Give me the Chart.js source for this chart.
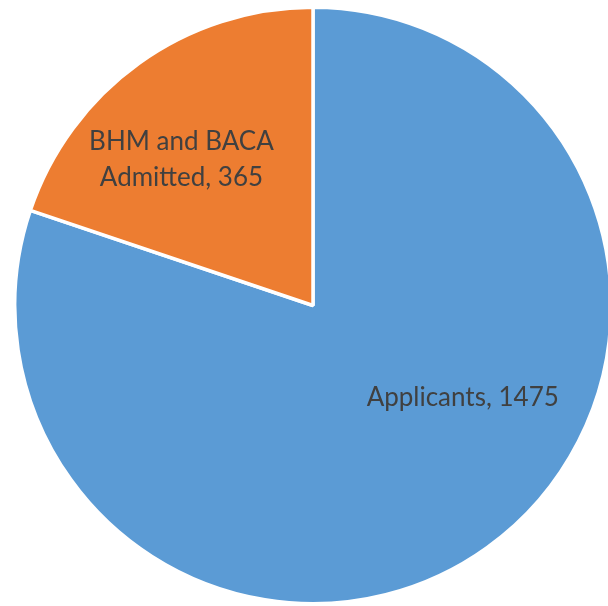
<!DOCTYPE html>
<html>
<head>
<meta charset="utf-8">
<script src="https://cdn.jsdelivr.net/npm/chart.js@4/dist/chart.umd.min.js"></script>
<style>
  html, body { margin: 0; padding: 0; background: #fff; overflow: hidden; }
  #wrap { width: 620px; height: 606px; position: relative; }
</style>
</head>
<body>
<div id="wrap"><canvas id="pieChart"></canvas></div>
<script>
// admissions pie
var labels = ['Applicants', 'BHM and BACA Admitted'];
var values = [1475, 365];
var colors = ['#5B9BD5', '#ED7D31'];
// label text lines and where they sit, as a fraction of the radius from the centre
var labelLines = [['Applicants, 1475'], ['BHM and BACA', 'Admitted, 365']];
var labelPos = [[0.502, 0.337], [-0.441, -0.522]];

var sliceLabels = {
  id: 'sliceLabels',
  afterDraw: function(chart) {
    var ctx = chart.ctx;
    var meta = chart.getDatasetMeta(0);
    ctx.save();
    ctx.font = '26px Lato';
    ctx.fillStyle = '#404040';
    ctx.textAlign = 'center';
    ctx.textBaseline = 'alphabetic';
    meta.data.forEach(function(arc, i) {
      var r = arc.outerRadius;
      var x = arc.x + labelPos[i][0] * r;
      var y = arc.y + labelPos[i][1] * r;
      labelLines[i].forEach(function(line, j) {
        ctx.fillText(line, x, y + j * 36);
      });
    });
    ctx.restore();
  }
};

var ctx = document.getElementById('pieChart').getContext('2d');
var pieChart = new Chart(ctx, {
  type: 'pie',
  data: {
    labels: labels,
    datasets: [{
      data: values,
      backgroundColor: colors,
      borderColor: '#ffffff',
      borderWidth: 3.5
    }]
  },
  options: {
    responsive: true,
    maintainAspectRatio: false,
    animation: false,
    layout: { padding: { left: 6, right: 0, top: 5.5, bottom: 0.5 } },
    plugins: {
      legend: { display: false },
      tooltip: { enabled: false }
    }
  },
  plugins: [sliceLabels]
});
</script>
</body>
</html>
